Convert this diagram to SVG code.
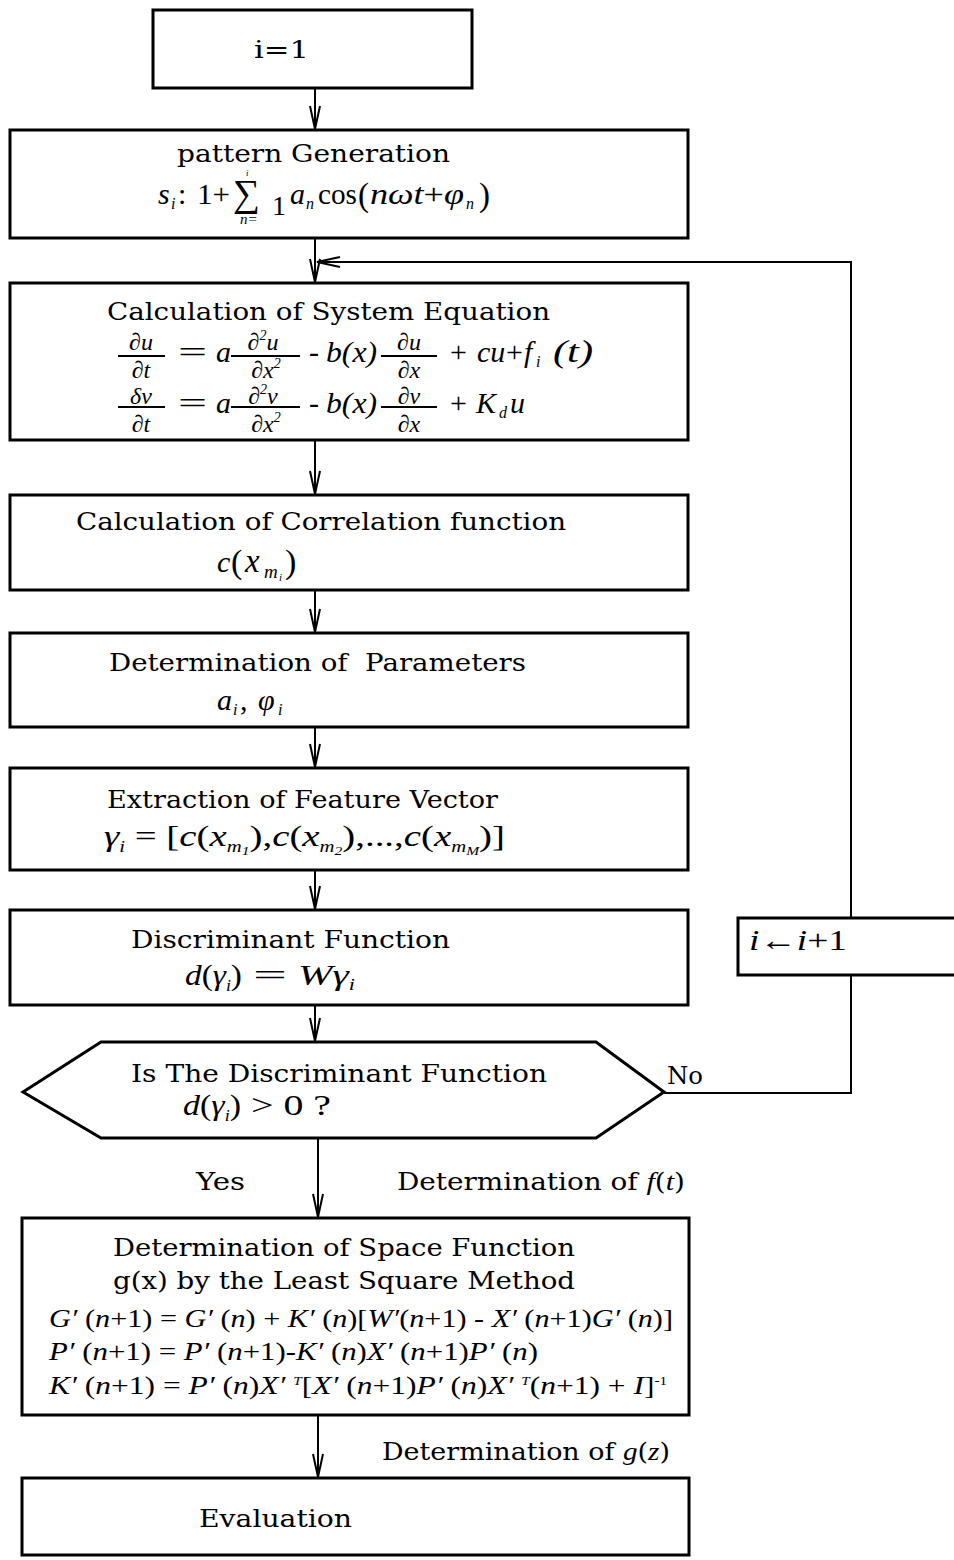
<svg xmlns="http://www.w3.org/2000/svg" width="954" height="1560" viewBox="0 0 954 1560">
<style>
.b{fill:#fff;stroke:#000;stroke-width:3}
.c{fill:none;stroke:#000;stroke-width:2}
.t{font-family:"DejaVu Serif","Liberation Serif",serif;font-size:24px;fill:#000}
.m{font-family:"Liberation Serif","DejaVu Serif",serif;font-style:italic;font-size:30px;fill:#000}
.r{font-style:normal}
.s{font-size:16px}
.xs{font-size:12px}
.f{font-size:24px}
.e{font-size:25px}
</style>
<defs>
<marker id="ah" markerUnits="userSpaceOnUse" markerWidth="30" markerHeight="14" viewBox="-26 -7 28 14" refX="0" refY="0" orient="auto">
<path d="M-23,-5 L0,0 L-23,5" fill="none" stroke="#000" stroke-width="2"/>
</marker>
</defs>
<rect width="954" height="1560" fill="#fff"/>

<g id="connectors">
<path class="c" d="M315,88 V129" marker-end="url(#ah)"/>
<path class="c" d="M315,238 V282" marker-end="url(#ah)"/>
<path class="c" d="M851,918 V262 H317" marker-end="url(#ah)"/>
<path class="c" d="M315,440 V494" marker-end="url(#ah)"/>
<path class="c" d="M315,590 V632" marker-end="url(#ah)"/>
<path class="c" d="M315,727 V767" marker-end="url(#ah)"/>
<path class="c" d="M315,870 V909" marker-end="url(#ah)"/>
<path class="c" d="M315,1005 V1041" marker-end="url(#ah)"/>
<path class="c" d="M318,1138 V1217" marker-end="url(#ah)"/>
<path class="c" d="M318,1415 V1477" marker-end="url(#ah)"/>
<path class="c" d="M664,1093 H851 V975"/>
</g>

<g id="n_init">
<rect class="b" x="153" y="10" width="319" height="78"/>
<text class="t" x="254" y="58" textLength="55" lengthAdjust="spacingAndGlyphs">i=1</text>
</g>

<g id="n_pattern">
<rect class="b" x="10" y="130" width="678" height="108"/>
<text class="t" x="177" y="162" textLength="273" lengthAdjust="spacingAndGlyphs">pattern Generation</text>
<text class="m" x="158" y="204">s<tspan class="s" x="171" y="209">i</tspan><tspan class="r" x="178" y="204">:</tspan></text>
<text class="m r" x="197" y="204" textLength="33" lengthAdjust="spacingAndGlyphs">1+</text>
<text class="m r" x="233" y="206" style="font-size:38px">∑<tspan x="246" y="176" style="font-size:9px;font-style:italic">i</tspan><tspan x="240" y="224" style="font-size:15px;font-style:italic">n=</tspan><tspan x="272" y="215" style="font-size:28px">1</tspan></text>
<text class="m" x="290" y="204">a<tspan class="s" x="306" y="209">n</tspan></text>
<text class="m r" x="318" y="204" textLength="39" lengthAdjust="spacingAndGlyphs">cos</text>
<text class="m r" x="358" y="206" style="font-size:33px">(</text>
<text class="m" x="370" y="204" textLength="94" lengthAdjust="spacingAndGlyphs">nωt<tspan class="r">+</tspan>φ</text>
<text class="m s" x="466" y="209">n<tspan class="r" x="479" y="206" style="font-size:33px">)</tspan></text>
</g>

<g id="n_system">
<rect class="b" x="10" y="283" width="678" height="157"/>
<text class="t" x="107" y="320" textLength="443" lengthAdjust="spacingAndGlyphs">Calculation of System Equation</text>
<!-- eq 1 -->
<line class="c" x1="118" y1="356" x2="165" y2="356"/>
<line class="c" x1="231" y1="356" x2="300" y2="356"/>
<line class="c" x1="381" y1="356" x2="437" y2="356"/>
<text class="m f" text-anchor="middle"><tspan x="141" y="350">∂u</tspan><tspan x="141" y="378">∂t</tspan></text>
<text class="m r" x="178" y="362" textLength="29" lengthAdjust="spacingAndGlyphs">=</text>
<text class="m" x="216" y="362">a</text>
<text class="m f" text-anchor="middle"><tspan x="263" y="350">∂<tspan style="font-size:14px" dy="-10">2</tspan><tspan dy="10">u</tspan></tspan><tspan x="266" y="378">∂x<tspan style="font-size:14px" dy="-10">2</tspan></tspan></text>
<text class="m r" x="309" y="362">-</text>
<text class="m" x="326" y="362" textLength="51" lengthAdjust="spacingAndGlyphs">b(x)</text>
<text class="m f" text-anchor="middle"><tspan x="409" y="350">∂u</tspan><tspan x="409" y="378">∂x</tspan></text>
<text class="m r" x="450" y="362">+</text>
<text class="m" x="477" y="362">cu<tspan class="r" x="506" y="362">+</tspan><tspan x="524" y="362">f</tspan><tspan class="s" x="536" y="367">i</tspan></text>
<text class="m" x="553" y="362" style="font-size:32px" textLength="40" lengthAdjust="spacingAndGlyphs">(t)</text>
<!-- eq 2 -->
<line class="c" x1="118" y1="407" x2="165" y2="407"/>
<line class="c" x1="231" y1="407" x2="300" y2="407"/>
<line class="c" x1="381" y1="407" x2="437" y2="407"/>
<text class="m f" text-anchor="middle"><tspan x="141" y="404">δv</tspan><tspan x="141" y="432">∂t</tspan></text>
<text class="m r" x="178" y="413" textLength="29" lengthAdjust="spacingAndGlyphs">=</text>
<text class="m" x="216" y="413">a</text>
<text class="m f" text-anchor="middle"><tspan x="263" y="404">∂<tspan style="font-size:14px" dy="-10">2</tspan><tspan dy="10">v</tspan></tspan><tspan x="266" y="432">∂x<tspan style="font-size:14px" dy="-10">2</tspan></tspan></text>
<text class="m r" x="309" y="413">-</text>
<text class="m" x="326" y="413" textLength="51" lengthAdjust="spacingAndGlyphs">b(x)</text>
<text class="m f" text-anchor="middle"><tspan x="409" y="404">∂v</tspan><tspan x="409" y="432">∂x</tspan></text>
<text class="m r" x="450" y="413">+</text>
<text class="m" x="476" y="413">K<tspan class="s" x="499" y="418">d</tspan><tspan x="510" y="413">u</tspan></text>
</g>

<g id="n_correlation">
<rect class="b" x="10" y="495" width="678" height="95"/>
<text class="t" x="76" y="530" textLength="490" lengthAdjust="spacingAndGlyphs">Calculation of Correlation function</text>
<text class="m" x="217" y="572">c<tspan class="r" x="231" y="573" style="font-size:34px">(</tspan><tspan x="245" y="572" style="font-size:33px">x</tspan><tspan x="264" y="578" style="font-size:19px">m</tspan><tspan x="279" y="581" style="font-size:11px">i</tspan><tspan class="r" x="285" y="573" style="font-size:34px">)</tspan></text>
</g>

<g id="n_parameters">
<rect class="b" x="10" y="633" width="678" height="94"/>
<text class="t" x="109" y="671" textLength="417" lengthAdjust="spacingAndGlyphs" xml:space="preserve">Determination of  Parameters</text>
<text class="m" x="217" y="710">a<tspan class="s" x="233" y="715">i</tspan><tspan class="r" x="240" y="710">,</tspan><tspan x="258" y="710">φ</tspan><tspan class="s" x="278" y="715">i</tspan></text>
</g>

<g id="n_feature">
<rect class="b" x="10" y="768" width="678" height="102"/>
<text class="t" x="107" y="808" textLength="391" lengthAdjust="spacingAndGlyphs">Extraction of Feature Vector</text>
<text class="m" x="104" y="846" textLength="401" lengthAdjust="spacingAndGlyphs">γ<tspan class="s" dy="6">i</tspan><tspan class="r" dy="-6"> = [</tspan>c<tspan class="r">(</tspan>x<tspan class="s" dy="6">m</tspan><tspan class="xs" dy="3">1</tspan><tspan class="r" dy="-9">),</tspan>c<tspan class="r">(</tspan>x<tspan class="s" dy="6">m</tspan><tspan class="xs" dy="3">2</tspan><tspan class="r" dy="-9">),...,</tspan>c<tspan class="r">(</tspan>x<tspan class="s" dy="6">m</tspan><tspan class="xs" dy="3">M</tspan><tspan class="r" dy="-9">)]</tspan></text>
</g>

<g id="n_discriminant">
<rect class="b" x="10" y="910" width="678" height="95"/>
<text class="t" x="131" y="948" textLength="319" lengthAdjust="spacingAndGlyphs">Discriminant Function</text>
<text class="m" x="185" y="985" textLength="57" lengthAdjust="spacingAndGlyphs">d<tspan class="r">(</tspan>γ<tspan class="s" dy="6">i</tspan><tspan class="r" dy="-6">)</tspan></text>
<text class="m r" x="253" y="985" textLength="34" lengthAdjust="spacingAndGlyphs">=</text>
<text class="m" x="298" y="985" textLength="57" lengthAdjust="spacingAndGlyphs">Wγ<tspan class="s" dy="5">i</tspan></text>
</g>

<g id="n_decision">
<polygon class="b" points="23,1092 101,1042 596,1042 664,1092 596,1138 101,1138"/>
<text class="t" x="131" y="1082" textLength="416" lengthAdjust="spacingAndGlyphs">Is The Discriminant Function</text>
<text class="m" x="183" y="1115" textLength="58" lengthAdjust="spacingAndGlyphs">d<tspan class="r">(</tspan>γ<tspan class="s" dy="6">i</tspan><tspan class="r" dy="-6">)</tspan></text>
<text class="m r" x="251" y="1115" textLength="80" lengthAdjust="spacingAndGlyphs">&gt; 0 ?</text>
<text class="t" x="667" y="1084" textLength="36" lengthAdjust="spacingAndGlyphs">No</text>
<text class="t" x="196" y="1190" textLength="49" lengthAdjust="spacingAndGlyphs">Yes</text>
<text class="t" x="397" y="1190" textLength="288" lengthAdjust="spacingAndGlyphs">Determination of <tspan class="m" style="font-size:26px">f</tspan><tspan>(</tspan><tspan class="m" style="font-size:26px">t</tspan><tspan>)</tspan></text>
</g>

<g id="n_increment">
<rect class="b" x="738" y="918" width="240" height="57"/>
<text class="m" x="749" y="950" textLength="98" lengthAdjust="spacingAndGlyphs">i<tspan class="r">←</tspan>i<tspan class="r">+1</tspan></text>
</g>

<g id="n_space">
<rect class="b" x="22" y="1218" width="667" height="197"/>
<text class="t" x="113" y="1256" textLength="462" lengthAdjust="spacingAndGlyphs">Determination of Space Function</text>
<text class="t" x="113" y="1289" textLength="462" lengthAdjust="spacingAndGlyphs">g(x) by the Least Square Method</text>
<text class="m e" x="49" y="1327" textLength="624" lengthAdjust="spacingAndGlyphs">G′ <tspan class="r">(</tspan>n<tspan class="r">+1) = </tspan>G′ <tspan class="r">(</tspan>n<tspan class="r">) + </tspan>K′ <tspan class="r">(</tspan>n<tspan class="r">)[</tspan>W′<tspan class="r">(</tspan>n<tspan class="r">+1) - </tspan>X′ <tspan class="r">(</tspan>n<tspan class="r">+1)</tspan>G′ <tspan class="r">(</tspan>n<tspan class="r">)]</tspan></text>
<text class="m e" x="49" y="1360" textLength="489" lengthAdjust="spacingAndGlyphs">P′ <tspan class="r">(</tspan>n<tspan class="r">+1) = </tspan>P′ <tspan class="r">(</tspan>n<tspan class="r">+1)-</tspan>K′ <tspan class="r">(</tspan>n<tspan class="r">)</tspan>X′ <tspan class="r">(</tspan>n<tspan class="r">+1)</tspan>P′ <tspan class="r">(</tspan>n<tspan class="r">)</tspan></text>
<text class="m e" x="49" y="1394" textLength="618" lengthAdjust="spacingAndGlyphs">K′ <tspan class="r">(</tspan>n<tspan class="r">+1) = </tspan>P′ <tspan class="r">(</tspan>n<tspan class="r">)</tspan>X′ <tspan class="xs" dy="-9">T</tspan><tspan class="r" dy="9">[</tspan>X′ <tspan class="r">(</tspan>n<tspan class="r">+1)</tspan>P′ <tspan class="r">(</tspan>n<tspan class="r">)</tspan>X′ <tspan class="xs" dy="-9">T</tspan><tspan class="r" dy="9">(</tspan>n<tspan class="r">+1) + </tspan>I<tspan class="r">]</tspan><tspan class="r xs" dy="-9">-1</tspan></text>
<text class="t" x="382" y="1460" textLength="288" lengthAdjust="spacingAndGlyphs">Determination of <tspan class="m" style="font-size:26px">g</tspan><tspan>(</tspan><tspan class="m" style="font-size:26px">z</tspan><tspan>)</tspan></text>
</g>

<g id="n_evaluation">
<rect class="b" x="22" y="1478" width="667" height="77"/>
<text class="t" x="199" y="1527" textLength="153" lengthAdjust="spacingAndGlyphs">Evaluation</text>
</g>
</svg>
